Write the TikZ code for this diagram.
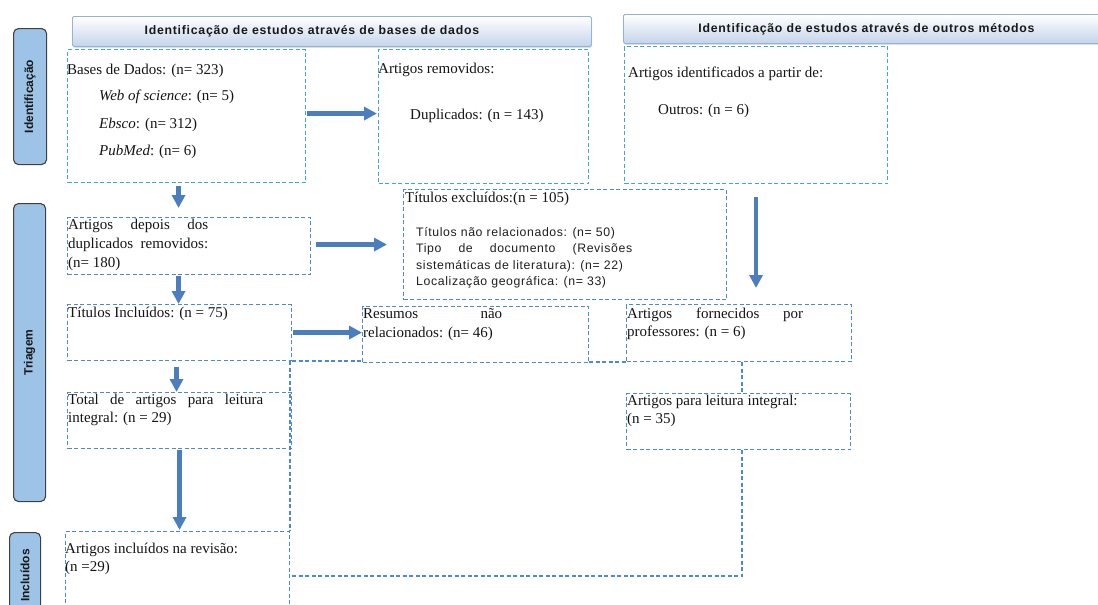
\documentclass[tikz,border=0pt]{standalone}
\usepackage{fontspec}
\setmainfont{Liberation Serif}
\setsansfont{Liberation Sans}
\newfontfamily\hdrfont{Liberation Sans}[LetterSpace=6]
\newfontfamily\lstfont{Liberation Sans}[LetterSpace=5]
\usetikzlibrary{arrows.meta,shadows}
\definecolor{arrblue}{HTML}{4A7EBF}
\definecolor{cyanline}{HTML}{3FA9C9}
\definecolor{blueline}{HTML}{4C88D4}
\definecolor{sidefill}{HTML}{9DC3E6}
\definecolor{hdrbot}{HTML}{C5D4EA}
\definecolor{hdrline}{HTML}{95B3D7}
\tikzset{
  dbox/.style={draw=#1, dash pattern=on 4pt off 2.5pt, line width=1.1pt, rectangle, anchor=north west, inner sep=0pt},
  cbox/.style={dbox=cyanline},
  bbox/.style={dbox=blueline},
  dline/.style={color=blueline, dash pattern=on 4pt off 2.5pt, line width=1.3pt},
  arr/.style={draw=arrblue, line width=4.3pt, -{Triangle[width=13pt,length=13pt]}},
  txt/.style={anchor=base west, inner sep=0pt, text=black!92, font=\fontsize{15}{18}\selectfont},
  lst/.style={anchor=base west, inner sep=0pt, text=black!88, font=\lstfont\fontsize{12.3}{16.5}\selectfont},
  hdr/.style={rectangle, anchor=north west, rounded corners=1.5pt, draw=hdrline, line width=0.8pt,
    top color=white, bottom color=hdrbot, inner sep=0pt,
    drop shadow={opacity=0.25, shadow xshift=0.8pt, shadow yshift=-1.5pt},
    font=\hdrfont\bfseries\fontsize{12.3}{14}\selectfont, text=black!90},
  side/.style={rectangle, anchor=north west, rounded corners=5pt, draw=black!75, line width=1.1pt, fill=sidefill, inner sep=0pt},
  sidetxt/.style={rotate=90, inner sep=0pt, font=\sffamily\bfseries\fontsize{12}{14}\selectfont, text=black!90}
}
\begin{document}
\begin{tikzpicture}[x=1pt,y=-1pt]
\useasboundingbox (0,0) rectangle (1098,605);
% headers
\node[hdr, minimum width=519pt, minimum height=30pt] (hdr1) at (72,16) {\hspace*{-40pt}Identificação de estudos através de bases de dados};
\node[hdr, minimum width=486pt, minimum height=29pt] (hdr2) at (623,14) {Identificação de estudos através de outros métodos};
% side labels
\node[side, minimum width=33pt, minimum height=136pt] (sideI) at (13,28) {};
\node[sidetxt] (lI) at (sideI.center) {Identificação};
\node[side, minimum width=32pt, minimum height=298pt] (sideT) at (13,203) {};
\node[sidetxt] (lT) at (sideT.center) {Triagem};
\node[side, minimum width=31pt, minimum height=86pt] (sideC) at (9,532) {};
\node[sidetxt] (lC) at (sideC.center) {Incluídos};
% boxes
\node[cbox, minimum width=238pt, minimum height=133pt] (bases) at (67,49) {};
\node[cbox, minimum width=210pt, minimum height=134pt] (rem) at (378,49) {};
\node[cbox, minimum width=263pt, minimum height=137pt] (ident) at (624,46) {};
\node[bbox, minimum width=243pt, minimum height=57pt] (depois) at (67,217) {};
\node[bbox, minimum width=323pt, minimum height=110pt] (excl) at (403,189) {};
\node[bbox, minimum width=224pt, minimum height=56pt] (tincl) at (67,304) {};
\node[bbox, minimum width=226pt, minimum height=56pt] (resumos) at (362,306) {};
\node[bbox, minimum width=225pt, minimum height=57pt] (forn) at (626,304) {};
\node[bbox, minimum width=224pt, minimum height=56pt] (total) at (67,392) {};
\node[bbox, minimum width=224pt, minimum height=56pt] (leit) at (626,393) {};
\node[bbox, minimum width=224pt, minimum height=89pt] (artincl) at (65,531) {};
% texts
\node[txt] (tbases) at (67,74) {Bases de Dados: (n= 323)};
\node[txt] (tweb) at (99,100) {\textit{Web of science}: (n= 5)};
\node[txt] (tebs) at (99,128) {\textit{Ebsco}: (n= 312)};
\node[txt] (tpub) at (99,155) {\textit{PubMed}: (n= 6)};
\node[txt] (trem) at (378,73) {Artigos removidos:};
\node[txt] (tdup) at (410,119) {Duplicados: (n = 143)};
\node[txt] (tident) at (628,77) {Artigos identificados a partir de:};
\node[txt] (tout) at (658,114) {Outros: (n = 6)};
\node[txt] (texcl) at (405,202) {Títulos excluídos:(n = 105)};
\node[lst] (tlist) at (416,236) {\begin{tabular}[t]{@{}l@{}}Títulos não relacionados: (n= 50)\\ \makebox[216pt][s]{Tipo de documento (Revisões}\\ sistemáticas de literatura): (n= 22)\\ Localização geográfica: (n= 33)\end{tabular}};
\node[txt, font=\fontsize{15}{19}\selectfont] (tdep) at (68,229) {\begin{tabular}[t]{@{}l@{}}\makebox[140pt][s]{Artigos depois dos}\\ \makebox[140pt][s]{duplicados removidos:}\\ (n= 180)\end{tabular}};
\node[txt] (ttincl) at (68,317) {Títulos Incluídos: (n = 75)};
\node[txt, font=\fontsize{15}{19}\selectfont] (tres) at (363,318) {\begin{tabular}[t]{@{}l@{}}\makebox[139pt][s]{Resumos não}\\ relacionados: (n= 46)\end{tabular}};
\node[txt] (tforn) at (627,318) {\begin{tabular}[t]{@{}l@{}}\makebox[176pt][s]{Artigos fornecidos por}\\ professores: (n = 6)\end{tabular}};
\node[txt] (ttotal) at (68,404) {\begin{tabular}[t]{@{}l@{}}\makebox[195pt][s]{Total de artigos para leitura}\\ integral: (n = 29)\end{tabular}};
\node[txt] (tleit) at (627,405) {\begin{tabular}[t]{@{}l@{}}Artigos para leitura integral:\\ (n = 35)\end{tabular}};
\node[txt] (tart) at (65,553) {\begin{tabular}[t]{@{}l@{}}Artigos incluídos na revisão:\\ (n =29)\end{tabular}};
% dashed connector lines
\draw[dline] (tincl.south east) -- (tincl.south east -| resumos.west);
\draw[dline] (artincl.north east |- tincl.south) -- (artincl.north east);
\draw[dline] (resumos.east |- forn.south) -- (forn.south west);
\draw[dline] ([xshift=3pt]forn.south) -- ([xshift=3pt]forn.south |- leit.north);
\draw[dline] ([xshift=3.5pt]leit.south) |- (artincl.east);
% arrows
\draw[arr, shorten <=1pt, shorten >=1pt] ([yshift=2.5pt]bases.east) -- ([yshift=2.5pt]bases.east -| rem.west);
\draw[arr, shorten <=3pt, shorten >=9pt] ([xshift=-8pt]bases.south) -- ([xshift=-8pt]bases.south |- depois.north);
\draw[arr, shorten <=5pt, shorten >=16pt] ([yshift=1.5pt]depois.east) -- ([yshift=1.5pt]depois.east -| excl.west);
\draw[arr, shorten <=1pt] ([xshift=-10.5pt]depois.south) -- ([xshift=-10.5pt]depois.south |- tincl.north);
\draw[arr, shorten <=1pt] (tincl.east) -- (tincl.east -| resumos.west);
\draw[arr, shorten <=6pt] ([xshift=-3pt]tincl.south) -- ([xshift=-3pt]tincl.south |- total.north);
\draw[arr, shorten <=1pt, shorten >=1pt] (total.south) -- (total.south |- artincl.north);
\draw[arr, shorten <=13pt, shorten >=16pt] (ident.south) -- (ident.south |- forn.north);
\end{tikzpicture}
\end{document}
